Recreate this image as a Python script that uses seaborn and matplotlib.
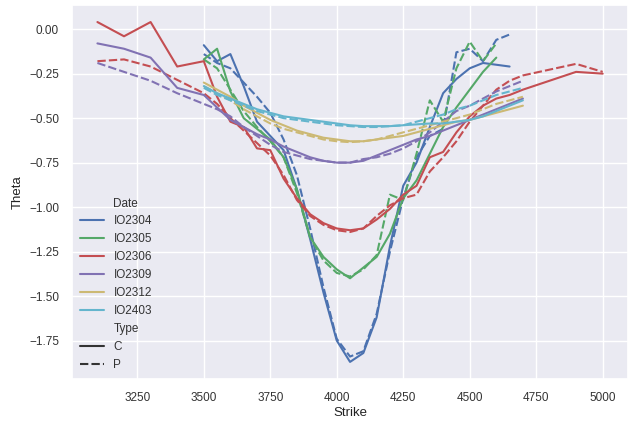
import numpy as np
import pandas as pd
import seaborn as sns
import matplotlib
matplotlib.use("Agg")
import matplotlib.pyplot as plt

# Strike grids
strikes_3500_4650 = [3500, 3550, 3600, 3650, 3700, 3750, 3800, 3850, 3900, 3950, 4000,
                     4050, 4100, 4150, 4200, 4250, 4300, 4350, 4400, 4450, 4500, 4550,
                     4600, 4650]
strikes_3500_4600 = strikes_3500_4650[:-1]
strikes_3500_4700 = strikes_3500_4650 + [4700]
strikes_io2306 = [3100, 3200, 3300, 3400] + strikes_3500_4650 + [4700, 4900, 5000]
strikes_io2309 = [3100, 3200, 3300, 3400] + strikes_3500_4700

# Theta values by contract month and option type
io2304_c = [-0.09, -0.18, -0.14, -0.32, -0.52, -0.60, -0.68, -0.90, -1.18, -1.48, -1.75,
            -1.87, -1.82, -1.62, -1.22, -0.88, -0.75, -0.55, -0.36, -0.28, -0.22, -0.19,
            -0.20, -0.21]
io2304_p = [-0.14, -0.19, -0.22, -0.30, -0.38, -0.47, -0.62, -0.82, -1.12, -1.45, -1.74,
            -1.84, -1.81, -1.60, -1.25, -0.95, -0.72, -0.60, -0.56, -0.13, -0.11, -0.18,
            -0.06, -0.03]
io2305_c = [-0.17, -0.11, -0.35, -0.50, -0.56, -0.62, -0.72, -0.90, -1.17, -1.28, -1.35,
            -1.40, -1.34, -1.28, -1.15, -0.95, -0.85, -0.70, -0.55, -0.44, -0.34, -0.24,
            -0.16]
io2305_p = [-0.17, -0.22, -0.34, -0.46, -0.55, -0.63, -0.72, -0.92, -1.17, -1.30, -1.37,
            -1.39, -1.35, -1.27, -0.93, -0.96, -0.70, -0.40, -0.52, -0.22, -0.07, -0.18,
            -0.08]
io2306_c = [0.04, -0.04, 0.04, -0.21, -0.18, -0.38, -0.52, -0.55, -0.67, -0.68, -0.84,
            -0.95, -1.04, -1.09, -1.12, -1.13, -1.12, -1.07, -1.01, -0.93, -0.88, -0.72,
            -0.69, -0.58, -0.49, -0.43, -0.39, -0.37, -0.34, -0.24, -0.25]
io2306_p = [-0.18, -0.17, -0.21, -0.285, -0.36, -0.42, -0.50, -0.57, -0.64, -0.71, -0.82,
            -0.96, -1.05, -1.10, -1.13, -1.14, -1.12, -1.05, -0.99, -0.95, -0.93, -0.80,
            -0.72, -0.63, -0.52, -0.43, -0.34, -0.29, -0.26, -0.195, -0.24]
io2309_c = [-0.08, -0.11, -0.16, -0.33, -0.37, -0.44, -0.51, -0.55, -0.59, -0.62, -0.66,
            -0.69, -0.72, -0.74, -0.75, -0.75, -0.74, -0.71, -0.68, -0.65, -0.62, -0.60,
            -0.57, -0.54, -0.51, -0.48, -0.45, -0.42, -0.39]
io2309_p = [-0.19, -0.24, -0.29, -0.36, -0.42, -0.45, -0.49, -0.55, -0.60, -0.65, -0.69,
            -0.71, -0.73, -0.74, -0.75, -0.75, -0.73, -0.72, -0.70, -0.67, -0.63, -0.58,
            -0.52, -0.46, -0.43, -0.39, -0.35, -0.32, -0.29]
io2312_c = [-0.30, -0.34, -0.38, -0.43, -0.47, -0.51, -0.54, -0.57, -0.59, -0.61, -0.62,
            -0.63, -0.63, -0.62, -0.61, -0.60, -0.58, -0.56, -0.54, -0.52, -0.51, -0.49,
            -0.47, -0.45, -0.43]
io2312_p = [-0.32, -0.36, -0.40, -0.45, -0.49, -0.53, -0.56, -0.58, -0.60, -0.62, -0.63,
            -0.635, -0.63, -0.62, -0.60, -0.58, -0.56, -0.54, -0.52, -0.50, -0.48, -0.45,
            -0.42, -0.40, -0.38]
io2403_c = [-0.32, -0.36, -0.39, -0.42, -0.45, -0.47, -0.49, -0.50, -0.51, -0.52, -0.53,
            -0.54, -0.545, -0.545, -0.545, -0.54, -0.535, -0.53, -0.53, -0.52, -0.51, -0.49,
            -0.46, -0.43, -0.40]
io2403_p = [-0.33, -0.37, -0.40, -0.43, -0.46, -0.48, -0.50, -0.51, -0.52, -0.53, -0.54,
            -0.545, -0.55, -0.55, -0.545, -0.54, -0.52, -0.50, -0.48, -0.45, -0.43, -0.40,
            -0.37, -0.35, -0.33]

series = [
    ("IO2304", "C", strikes_3500_4650, io2304_c),
    ("IO2304", "P", strikes_3500_4650, io2304_p),
    ("IO2305", "C", strikes_3500_4600, io2305_c),
    ("IO2305", "P", strikes_3500_4600, io2305_p),
    ("IO2306", "C", strikes_io2306, io2306_c),
    ("IO2306", "P", strikes_io2306, io2306_p),
    ("IO2309", "C", strikes_io2309, io2309_c),
    ("IO2309", "P", strikes_io2309, io2309_p),
    ("IO2312", "C", strikes_3500_4700, io2312_c),
    ("IO2312", "P", strikes_3500_4700, io2312_p),
    ("IO2403", "C", strikes_3500_4700, io2403_c),
    ("IO2403", "P", strikes_3500_4700, io2403_p),
]

frames = []
for date, typ, ks, th in series:
    frames.append(pd.DataFrame({"Strike": ks, "Theta": th, "Date": date, "Type": typ}))
df = pd.concat(frames, ignore_index=True)

sns.set_theme(style="darkgrid", palette="deep6")
plt.rcParams["font.family"] = ["Liberation Sans", "DejaVu Sans"]

fig, ax = plt.subplots(figsize=(6.33, 4.21), dpi=100)
fig.subplots_adjust(left=0.114, right=0.992, top=0.988, bottom=0.1)

sns.lineplot(data=df, x="Strike", y="Theta", hue="Date", style="Type",
             palette="deep6", linewidth=1.5, ax=ax)

ax.tick_params(labelsize=8.5, labelcolor="#333333")
ax.set_xlabel("Strike", fontsize=9.5, color="#222222", labelpad=2)
ax.set_ylabel("Theta", fontsize=9.5, color="#222222")
leg = ax.legend(loc="lower left", fontsize=8.5, frameon=False, labelspacing=0.5,
                borderaxespad=0.3)
for t in leg.get_texts():
    t.set_color("#333333")

fig.savefig("out.png", dpi=100)
